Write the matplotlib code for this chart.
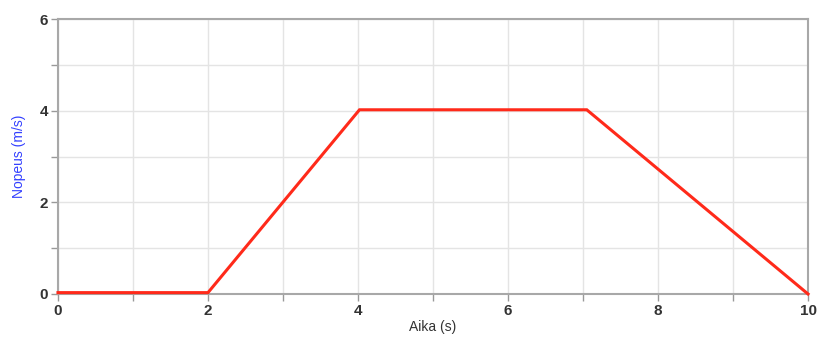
import matplotlib.pyplot as plt
from matplotlib.ticker import MultipleLocator, FuncFormatter

# velocity-time data (Aika / Nopeus)
aika = [0, 2, 4.02, 7.05, 10]
nopeus = [0.03, 0.03, 4.02, 4.02, 0]

plt.rcParams['font.family'] = ['Liberation Sans', 'DejaVu Sans']

fig = plt.figure(figsize=(8.19, 3.4), dpi=100)
ax = fig.add_axes([0.0708, 0.1353, 0.9158, 0.8087])

ax.plot(aika, nopeus, color='#ff2a1a', lw=2.2, solid_joinstyle='miter', clip_on=False, zorder=3)

ax.set_xlim(0, 10)
ax.set_ylim(0, 6)
ax.xaxis.set_major_locator(MultipleLocator(1))
ax.yaxis.set_major_locator(MultipleLocator(1))
even = FuncFormatter(lambda v, p: f'{int(round(v))}' if int(round(v)) % 2 == 0 else '')
ax.xaxis.set_major_formatter(even)
ax.yaxis.set_major_formatter(even)
ax.grid(True, color='#e4e4e4', lw=1)
ax.set_axisbelow(True)
ax.tick_params(length=5, width=1, color='#999999', labelsize=11, labelcolor='#333333', pad=2)
for t in ax.get_xticklabels() + ax.get_yticklabels():
    t.set_fontweight('bold')
for s in ax.spines.values():
    s.set_color('#a8a8a8')
    s.set_linewidth(1.5)

ax.set_xlabel('Aika (s)', fontsize=10, color='#333333', labelpad=2)
ax.set_ylabel('Nopeus (m/s)', fontsize=10, color='#3340ff', labelpad=10)

fig.savefig('out.png', dpi=100)
